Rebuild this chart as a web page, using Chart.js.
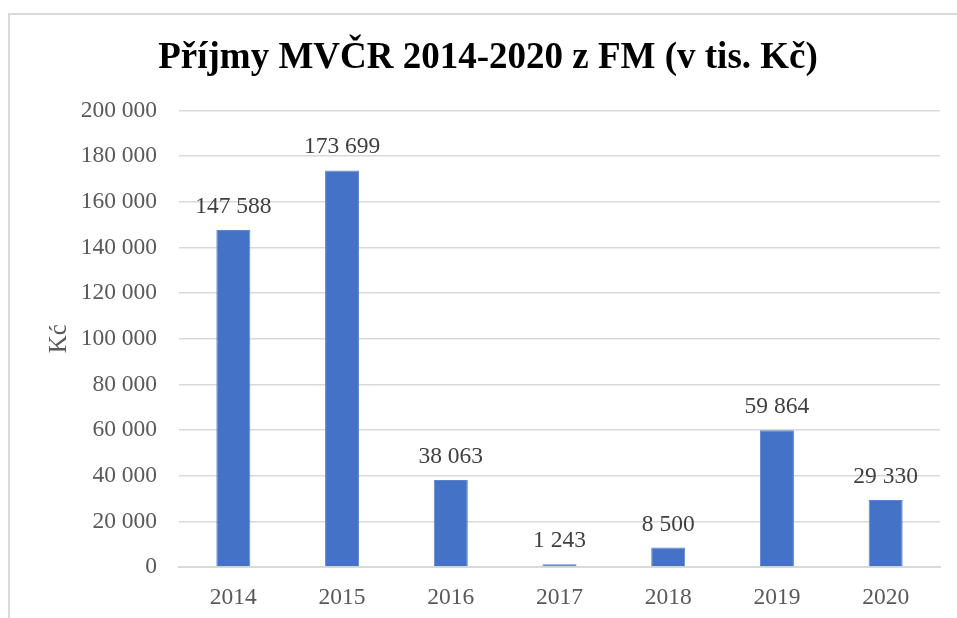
<!DOCTYPE html>
<html>
<head>
<meta charset="utf-8">
<script src="https://cdn.jsdelivr.net/npm/chart.js@4/dist/chart.umd.min.js"></script>
<style>
  html, body { margin: 0; padding: 0; background: #ffffff; }
  #wrap { position: relative; width: 957px; height: 618px; }
  canvas { display: block; }
</style>
</head>
<body>
<div id="wrap"><canvas id="c" width="957" height="618"></canvas></div>
<script>
const titleText = 'Příjmy MVČR 2014-2020 z FM (v tis. Kč)';
const yAxisTitle = 'Kć';
const years = ['2014', '2015', '2016', '2017', '2018', '2019', '2020'];
const incomes = [147588, 173699, 38063, 1243, 8500, 59864, 29330];
const yMin = 0;
const yMax = 200000;
const yStep = 20000;

function fmt(v) {
  return String(v).replace(/\B(?=(\d{3})+(?!\d))/g, ' ');
}

const framePlugin = {
  id: 'frame',
  beforeDraw(chart) {
    const ctx = chart.ctx;
    ctx.save();
    ctx.fillStyle = '#d9d9d9';
    ctx.fillRect(8, 13, chart.width - 8, 2);
    ctx.fillRect(8, 13, 2, chart.height - 13);
    ctx.restore();
  }
};

const labelPlugin = {
  id: 'barLabels',
  afterDatasetsDraw(chart) {
    const ctx = chart.ctx;
    ctx.save();
    ctx.font = '23.5px "Liberation Serif", "Times New Roman", serif';
    ctx.fillStyle = '#404040';
    ctx.textAlign = 'center';
    ctx.textBaseline = 'alphabetic';
    const meta = chart.getDatasetMeta(0);
    meta.data.forEach((bar, i) => {
      ctx.fillText(fmt(chart.data.datasets[0].data[i]), bar.x, bar.y - 17);
    });
    ctx.restore();
  }
};

new Chart(document.getElementById('c'), {
  type: 'bar',
  data: {
    labels: years,
    datasets: [{
      data: incomes,
      backgroundColor: '#4472C4',
      borderColor: '#5b84cc',
      borderWidth: 1,
      barPercentage: 0.313,
      categoryPercentage: 1.0
    }]
  },
  options: {
    responsive: false,
    animation: false,
    devicePixelRatio: 1,
    layout: { padding: { left: 36, right: 17, top: 13, bottom: 0 } },
    plugins: {
      legend: { display: false },
      tooltip: { enabled: false },
      title: {
        display: true,
        text: titleText,
        color: '#000000',
        font: { family: '"Liberation Serif", "Times New Roman", serif', size: 37, weight: 'bold' },
        padding: { top: 23, bottom: 30 }
      }
    },
    scales: {
      x: {
        grid: { display: false, drawTicks: false },
        border: { display: true, color: '#d9d9d9', width: 2 },
        ticks: {
          color: '#595959',
          font: { family: '"Liberation Serif", "Times New Roman", serif', size: 23.5 },
          padding: 17
        },
        afterFit(scale) { scale.height = 51; }
      },
      y: {
        min: yMin,
        max: yMax,
        grid: { color: '#d9d9d9', lineWidth: 1.5, drawTicks: false },
        border: { display: false },
        ticks: {
          stepSize: yStep,
          color: '#595959',
          font: { family: '"Liberation Serif", "Times New Roman", serif', size: 23.5 },
          padding: 22,
          callback: (v) => fmt(v)
        },
        title: {
          display: true,
          text: yAxisTitle,
          color: '#595959',
          font: { family: '"Liberation Serif", "Times New Roman", serif', size: 25 },
          padding: { top: 8, bottom: 0 }
        },
        afterFit(scale) { scale.width = 143; }
      }
    }
  },
  plugins: [framePlugin, labelPlugin]
});
</script>
</body>
</html>
